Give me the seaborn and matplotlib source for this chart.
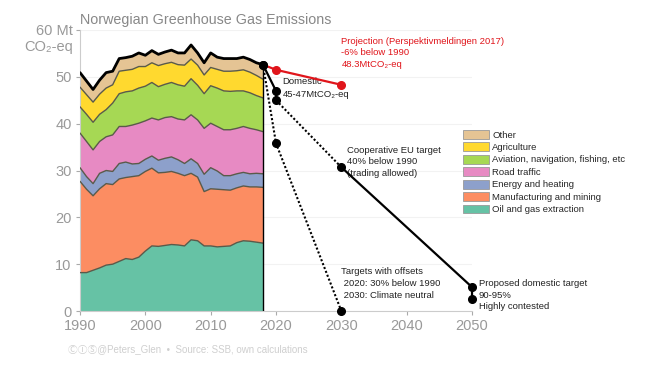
import numpy as np
import matplotlib
matplotlib.use("Agg")
import matplotlib.pyplot as plt
import matplotlib.transforms as mtransforms
from matplotlib.patches import Patch
import seaborn as sns

years = list(range(1990, 2019))
oil_gas = [8.2, 8.2, 8.7, 9.2, 9.8, 10.0, 10.6, 11.2, 11.0, 11.5, 12.8, 13.9, 13.8, 14.0, 14.2,
           14.1, 13.9, 15.2, 15.0, 13.9, 13.9, 13.7, 13.8, 13.9, 14.6, 15.0, 14.9, 14.7, 14.5]
manufacturing = [19.5, 17.8, 15.9, 16.9, 17.4, 17.0, 17.6, 17.3, 17.7, 17.4, 17.0, 16.6, 15.7, 15.6, 15.6,
                 15.3, 15.0, 14.2, 13.6, 11.6, 12.2, 12.3, 12.1, 11.9, 11.7, 11.7, 11.6, 11.8, 11.9]
energy = [2.9, 2.7, 2.6, 3.3, 2.8, 2.8, 3.3, 3.3, 2.7, 2.6, 2.6, 2.6, 2.7, 3.0, 3.1,
          2.9, 2.6, 3.1, 2.9, 3.7, 4.5, 3.9, 3.0, 3.1, 3.0, 2.9, 2.8, 2.9, 2.9]
road = [7.4, 7.5, 7.2, 6.8, 7.2, 7.8, 7.9, 7.6, 8.3, 8.6, 8.2, 8.1, 8.6, 8.7, 8.6,
        8.7, 9.3, 9.4, 9.3, 9.8, 9.5, 9.5, 9.8, 9.8, 9.7, 9.8, 9.7, 9.3, 9.0]
aviation = [5.6, 5.8, 5.9, 5.8, 5.8, 6.8, 7.0, 7.4, 7.3, 7.5, 7.4, 7.6, 7.1, 7.1, 7.3,
            7.3, 7.2, 7.7, 7.4, 7.4, 8.0, 8.2, 8.3, 8.2, 8.0, 7.6, 7.6, 7.3, 7.2]
agriculture = [4.2, 4.2, 4.3, 4.3, 4.6, 3.9, 4.8, 4.6, 4.6, 4.6, 4.2, 4.2, 4.5, 4.4, 4.3,
               4.3, 4.5, 4.2, 4.3, 4.0, 3.9, 4.0, 4.2, 4.3, 4.3, 4.5, 4.4, 4.3, 4.0]
other = [3.1, 2.9, 2.7, 3.0, 3.3, 2.9, 2.7, 2.7, 2.8, 2.9, 2.4, 2.6, 2.4, 2.5, 2.6,
         2.5, 2.6, 3.0, 2.6, 2.6, 3.1, 2.6, 2.7, 2.7, 2.6, 2.7, 2.7, 2.7, 3.1]
sector_names = ["Oil and gas extraction", "Manufacturing and mining", "Energy and heating",
                "Road traffic", "Aviation, navigation, fishing, etc", "Agriculture", "Other"]

# target pathways
proj_years = [2018, 2020, 2030]
proj_vals = [52.6, 51.5, 48.3]
dom_years = [2018, 2020, 2020]
dom_vals = [52.6, 47.0, 45.0]
coop_dot_years = [2020, 2030]
coop_dot_vals = [45.0, 30.7]
coop_years = [2030, 2050, 2050]
coop_vals = [30.7, 5.1, 2.6]
offset_years = [2018, 2020, 2030]
offset_vals = [52.6, 35.8, 0.0]

sns.set_theme(style="white")
plt.rcParams['font.family'] = ['Liberation Sans', 'DejaVu Sans']
colors = sns.color_palette("Set2", 7)

fig = plt.figure(figsize=(6.65, 3.74), dpi=100)
ax = fig.add_axes([0.1203, 0.1684, 0.5895, 0.7514])

series = [oil_gas, manufacturing, energy, road, aviation, agriculture, other]
ax.stackplot(years, *series, colors=colors, edgecolor="none", zorder=2)
cum = np.cumsum(np.array(series), axis=0)
for i in range(len(series) - 1):
    ax.plot(years, cum[i], color="#5a5a4a", lw=1.0, zorder=3)
ax.plot(years, cum[-1], color="black", lw=2.0, zorder=4)
ax.plot([2018, 2018], [0, cum[-1][-1]], color="black", lw=1.0, zorder=4)

red = "#e0151b"
ax.plot(proj_years, proj_vals, color=red, lw=1.6, zorder=5, clip_on=False)
ax.plot(proj_years[1:], proj_vals[1:], 'o', color=red, ms=5.5, zorder=6, clip_on=False)
ax.plot(dom_years, dom_vals, color="black", lw=1.6, zorder=5, marker='o', ms=5.5, clip_on=False)
ax.plot(coop_dot_years, coop_dot_vals, color="black", lw=1.5, ls=(0, (1, 1)), zorder=5)
ax.plot(coop_years, coop_vals, color="black", lw=1.6, marker='o', ms=5.5, zorder=5, clip_on=False)
ax.plot(offset_years, offset_vals, color="black", lw=1.5, ls=(0, (1, 1)), zorder=5, clip_on=False)
ax.plot(offset_years, offset_vals, 'o', color="black", ms=5.5, zorder=6, clip_on=False)

ax.set_xlim(1990, 2050)
ax.set_ylim(0, 60)
ax.set_xticks(range(1990, 2051, 10))
ax.set_yticks(range(0, 61, 10))
ax.set_yticklabels(["0", "10", "20", "30", "40", "50", ""])
ax.tick_params(axis='both', colors="#aaaaaa", labelcolor="#999999", labelsize=10.5,
               length=3, width=0.8, left=True, bottom=True, pad=3)
for s in ["top", "right"]:
    ax.spines[s].set_visible(False)
for s in ["left", "bottom"]:
    ax.spines[s].set_color("#cccccc")
    ax.spines[s].set_linewidth(0.8)
ax.yaxis.grid(True, color="#f2f2f2", lw=0.8, zorder=0)
ax.set_axisbelow(True)

trans = mtransforms.blended_transform_factory(ax.transAxes, ax.transData)
ax.text(-0.018, 59.7, "60 Mt", transform=trans, ha="right", va="center", fontsize=10.5, color="#999999")
ax.text(-0.018, 56.4, "CO\u2082-eq", transform=trans, ha="right", va="center", fontsize=10.5, color="#999999")

fig.text(80 / 665, 1 - 20 / 374, "Norwegian Greenhouse Gas Emissions", fontsize=10.3, color="#888888",
         ha="left", va="center")

fs = 6.8
ax.text(2030.0, 58.6, "Projection (Perspektivmeldingen 2017)\n-6% below 1990\n48.3MtCO\u2082-eq",
        color=red, fontsize=fs, ha="left", va="top", linespacing=1.4)
ax.text(2021.0, 47.6, "Domestic\n45-47MtCO\u2082-eq", color="#222222", fontsize=fs, ha="left", va="center",
        linespacing=1.5)
ax.text(2030.9, 35.3, "Cooperative EU target\n40% below 1990\n(trading allowed)", color="#222222",
        fontsize=fs, ha="left", va="top", linespacing=1.4)
ax.text(2030.0, 9.4, "Targets with offsets\n 2020: 30% below 1990\n 2030: Climate neutral", color="#222222",
        fontsize=fs, ha="left", va="top", linespacing=1.4)
ax.text(2051.0, 6.9, "Proposed domestic target\n90-95%\nHighly contested", color="#222222",
        fontsize=fs, ha="left", va="top", linespacing=1.4, clip_on=False)

handles = [Patch(facecolor=colors[i], edgecolor="#999999", lw=0.6) for i in range(6, -1, -1)]
labels = [sector_names[i] for i in range(6, -1, -1)]
fig.legend(handles, labels, loc="upper left", bbox_to_anchor=(463 / 665, 1 - 130 / 374), frameon=False,
           fontsize=fs, handlelength=2.8, handleheight=1.05, labelspacing=0.3, handletextpad=0.3,
           borderaxespad=0, borderpad=0)

fig.text(68 / 665, 1 - 349 / 374, "\u24b8\u24be\u24c8@Peters_Glen  \u2022  Source: SSB, own calculations",
         fontsize=7, color="#cfcfcf", ha="left", va="center",
         family=['Liberation Sans', 'Noto Sans CJK SC', 'DejaVu Sans'])

fig.savefig("out.png", dpi=100)
